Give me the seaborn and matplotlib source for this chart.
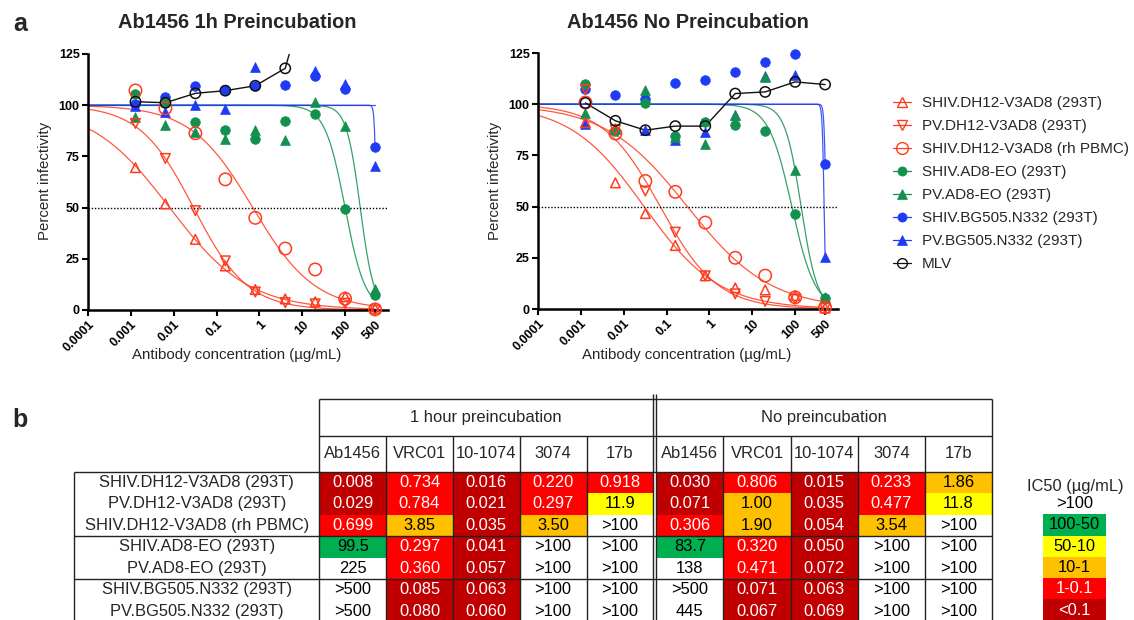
import numpy as np
import pandas as pd
import matplotlib
matplotlib.use("Agg")
import matplotlib.pyplot as plt
import seaborn as sns
from matplotlib.colors import ListedColormap
from matplotlib.lines import Line2D
from matplotlib.ticker import NullLocator

sns.set_theme(style="ticks")
plt.rcParams["font.family"] = ["Liberation Sans", "DejaVu Sans"]

# ---------------- data: neutralization curves ----------------
conc = [0.00128, 0.0064, 0.032, 0.16, 0.8, 4, 20, 100, 500]
series_names = ["SHIV.DH12-V3AD8 (293T)", "PV.DH12-V3AD8 (293T)", "SHIV.DH12-V3AD8 (rh PBMC)",
                "SHIV.AD8-EO (293T)", "PV.AD8-EO (293T)", "SHIV.BG505.N332 (293T)",
                "PV.BG505.N332 (293T)", "MLV"]

# 1h preincubation (left panel)
pre_shiv_dh12 = [69.5, 51.8, 34.5, 21.5, 10.0, 5.4, 4.0, 6.5, 0.7]
pre_pv_dh12 = [91.1, 74.0, 48.5, 24.0, 8.8, 3.6, 3.0, 3.3, 0.0]
pre_shiv_dh12_pbmc = [107.2, 98.5, 86.3, 63.8, 45.0, 30.0, 19.8, 5.5, 0.3]
pre_shiv_ad8 = [105.5, 101.2, 92.0, 88.0, 83.3, 92.4, 95.6, 49.5, 7.3]
pre_pv_ad8 = [94.0, 90.3, 87.0, 83.3, 88.0, 83.0, 101.7, 89.6, 10.4]
pre_shiv_bg505 = [100.5, 103.8, 109.4, 107.2, 109.5, 109.9, 114.5, 107.7, 79.4]
pre_pv_bg505 = [99.5, 96.5, 100.0, 98.2, 118.8, np.nan, 116.5, 110.5, 70.3]
pre_mlv = [101.7, 101.2, 105.8, 107.1, 109.5, 118.0, 170.0, np.nan, np.nan]

# no preincubation (right panel)
nop_shiv_dh12 = [91.0, 61.6, 46.6, 31.0, 16.2, 10.3, 9.3, 6.5, 0.5]
nop_pv_dh12 = [107.2, 87.5, 57.6, 37.5, 16.2, 7.4, 3.7, 4.9, 0.3]
nop_shiv_dh12_pbmc = [100.8, 85.7, 62.5, 57.2, 42.2, 25.0, 16.3, 5.7, 0.8]
nop_shiv_ad8 = [110.1, 87.0, 100.6, 84.4, 91.4, 89.8, 87.0, 46.2, 5.2]
nop_pv_ad8 = [95.5, 88.5, 106.8, 84.0, 80.5, 94.5, 113.3, 68.1, 6.0]
nop_shiv_bg505 = [107.5, 104.4, 102.3, 110.4, 111.7, 115.7, 120.6, 124.4, 71.0]
nop_pv_bg505 = [90.5, 88.0, 87.3, 82.5, 86.5, 94.6, 113.8, 114.1, 25.6]
nop_mlv = [100.6, 91.9, 87.3, 89.3, 89.3, 105.2, 106.0, 110.9, 109.6]

# fitted curve parameters (IC50, Hill slope) for the 7 virus series
pre_fit_ic50 = [0.008, 0.029, 0.699, 99.5, 225, 534, 1e4]
pre_fit_hill = [0.47, 0.69, 0.60, 1.85, 2.7, 20, 20]
nop_fit_ic50 = [0.030, 0.071, 0.306, 83.7, 138, 523, 474]
nop_fit_hill = [0.50, 0.65, 0.45, 1.6, 2.3, 20, 20]

xtick_vals = [0.0001, 0.001, 0.01, 0.1, 1, 10, 100, 500]
xtick_labels = ["0.0001", "0.001", "0.01", "0.1", "1", "10", "100", "500"]
ytick_vals = [0, 25, 50, 75, 100, 125]

# ---------------- data: IC50 table ----------------
row_labels = ["SHIV.DH12-V3AD8 (293T)", "PV.DH12-V3AD8 (293T)", "SHIV.DH12-V3AD8 (rh PBMC)",
              "SHIV.AD8-EO (293T)", "PV.AD8-EO (293T)", "SHIV.BG505.N332 (293T)",
              "PV.BG505.N332 (293T)"]
antibodies = ["Ab1456", "VRC01", "10-1074", "3074", "17b"]
pre_ab1456 = ["0.008", "0.029", "0.699", "99.5", "225", ">500", ">500"]
pre_vrc01 = ["0.734", "0.784", "3.85", "0.297", "0.360", "0.085", "0.080"]
pre_101074 = ["0.016", "0.021", "0.035", "0.041", "0.057", "0.063", "0.060"]
pre_3074 = ["0.220", "0.297", "3.50", ">100", ">100", ">100", ">100"]
pre_17b = ["0.918", "11.9", ">100", ">100", ">100", ">100", ">100"]
nop_ab1456 = ["0.030", "0.071", "0.306", "83.7", "138", ">500", "445"]
nop_vrc01 = ["0.806", "1.00", "1.90", "0.320", "0.471", "0.071", "0.067"]
nop_101074 = ["0.015", "0.035", "0.054", "0.050", "0.072", "0.063", "0.069"]
nop_3074 = ["0.233", "0.477", "3.54", ">100", ">100", ">100", ">100"]
nop_17b = ["1.86", "11.8", ">100", ">100", ">100", ">100", ">100"]
legend_bins = [">100", "100-50", "50-10", "10-1", "1-0.1", "<0.1"]
bin_colors = ["#FFFFFF", "#00B050", "#FFFF00", "#FFC000", "#FF0000", "#C00000"]

# ---------------- styles ----------------
RED, GREEN, BLUE, BLACK = "#FF3B1F", "#13904F", "#1F3BF5", "#111111"
styles = [  # color, marker, filled, size
    (RED, "^", False, 48), (RED, "v", False, 48), (RED, "o", False, 80),
    (GREEN, "o", True, 48), (GREEN, "^", True, 50),
    (BLUE, "o", True, 48), (BLUE, "^", True, 50), (BLACK, "o", False, 55)]

W, H = 1134, 620


def fr(x0, y0, x1, y1):
    return [x0 / W, 1 - y1 / H, (x1 - x0) / W, (y1 - y0) / H]


fig = plt.figure(figsize=(W / 100, H / 100), dpi=100)


def draw_panel(ax, values, ic50s, hills):
    ax.set_xscale("log")
    xs = np.logspace(-4, np.log10(500), 500)
    for k in range(7):
        c = styles[k][0]
        ys = 100.0 / (1.0 + (xs / ic50s[k]) ** hills[k])
        sns.lineplot(x=xs, y=ys, ax=ax, color=c, linewidth=0.9, estimator=None,
                     sort=False, legend=False, alpha=0.85)
    ax.axhline(50, color="black", linestyle=(0, (1, 1.3)), linewidth=1.0)
    sns.lineplot(x=conc, y=values[7], ax=ax, color=BLACK, linewidth=1.0,
                 estimator=None, legend=False)
    order = [6, 5, 4, 3, 2, 1, 0, 7]
    for k in order:
        c, m, filled, s = styles[k]
        df = pd.DataFrame({"x": conc, "y": values[k]}).dropna()
        df = df[df.y <= 125]
        if filled:
            sns.scatterplot(data=df, x="x", y="y", ax=ax, marker=m, s=s, color=c,
                            edgecolor=c, linewidth=0.5, clip_on=False, zorder=3,
                            legend=False)
        else:
            sns.scatterplot(data=df, x="x", y="y", ax=ax, marker=m, s=s, color=c,
                            facecolors="none", edgecolor=c, linewidth=1.1,
                            clip_on=False, zorder=4, legend=False)
    ax.set_xlim(1e-4, 1e3)
    ax.set_ylim(0, 125)
    ax.set_xticks(xtick_vals)
    ax.xaxis.set_minor_locator(NullLocator())
    ax.set_xticklabels(xtick_labels, rotation=45, ha="right", va="top",
                       rotation_mode="anchor", fontweight="bold", fontsize=9)
    ax.set_yticks(ytick_vals)
    ax.set_yticklabels([str(v) for v in ytick_vals], fontweight="bold", fontsize=9)
    ax.set_xlabel("")
    ax.set_ylabel("")
    sns.despine(ax=ax)
    for sp in ["left", "bottom"]:
        ax.spines[sp].set_linewidth(1.8)
        ax.spines[sp].set_color("black")
    ax.tick_params(axis="both", direction="out", length=4, width=1.5, colors="black", pad=2)
    ax.patch.set_alpha(0)


axL = fig.add_axes(fr(88, 54, 388, 310))
draw_panel(axL, [pre_shiv_dh12, pre_pv_dh12, pre_shiv_dh12_pbmc, pre_shiv_ad8, pre_pv_ad8,
                 pre_shiv_bg505, pre_pv_bg505, pre_mlv], pre_fit_ic50, pre_fit_hill)
axR = fig.add_axes(fr(538, 53, 838, 309))
draw_panel(axR, [nop_shiv_dh12, nop_pv_dh12, nop_shiv_dh12_pbmc, nop_shiv_ad8, nop_pv_ad8,
                 nop_shiv_bg505, nop_pv_bg505, nop_mlv], nop_fit_ic50, nop_fit_hill)

# legend
handles = []
for (c, m, filled, s) in styles:
    handles.append(Line2D([], [], color=c, marker=m, markersize=np.sqrt(s) * 0.95,
                          markerfacecolor=c if filled else "none",
                          markeredgecolor=c, linewidth=0.9,
                          markeredgewidth=1.0 if not filled else 0.5))
fig.legend(handles=handles, labels=series_names, loc="upper left",
           bbox_to_anchor=(893 / W, 1 - 96 / H), frameon=False, fontsize=11,
           handlelength=1.2, handletextpad=0.7, labelspacing=0.59,
           borderpad=0, borderaxespad=0)

# ---------------- overlay for text & table structure ----------------
ov = fig.add_axes([0, 0, 1, 1])
ov.set_xlim(0, W)
ov.set_ylim(H, 0)
ov.axis("off")
ov.patch.set_alpha(0)
ov.set_zorder(5)

ov.text(20, 24, "a", fontsize=18, fontweight="bold", ha="center", va="center")
ov.text(20, 420, "b", fontsize=18, fontweight="bold", ha="center", va="center")
ov.text(237.5, 28, "Ab1456 1h Preincubation", fontsize=14.4, fontweight="bold",
        ha="center", va="baseline")
ov.text(688, 28, "Ab1456 No Preincubation", fontsize=14.4, fontweight="bold",
        ha="center", va="baseline")
for xc in (45, 495):
    ov.text(xc, 181, "Percent infectivity", rotation=90, fontsize=10.8,
            ha="center", va="center")
for xc in (237, 687):
    ov.text(xc, 355, "Antibody concentration (µg/mL)", fontsize=10.8,
            ha="center", va="center")


# ---------------- table heatmaps ----------------
def ic50_class(s):
    if s.startswith(">"):
        return 0
    v = float(s)
    if v > 100:
        return 0
    if v >= 50:
        return 1
    if v >= 10:
        return 2
    if v >= 1:
        return 3
    if v >= 0.1:
        return 4
    return 5


cmap = ListedColormap(bin_colors)
RH = 21.45
Y_COL = 471.7
Y_BOT = Y_COL + 7 * RH
TFS = 11.9


def draw_heat(ax, cols):
    labels = np.array(cols).T
    cls = np.vectorize(ic50_class)(labels)
    sns.heatmap(cls, ax=ax, cmap=cmap, vmin=-0.5, vmax=5.5, cbar=False,
                xticklabels=False, yticklabels=False, linewidths=0)
    for i in range(labels.shape[0]):
        for j in range(labels.shape[1]):
            ax.text(j + 0.5, i + 0.5, labels[i, j], ha="center", va="center",
                    fontsize=TFS, color="white" if cls[i, j] >= 4 else "black")
    ax.set_xlabel("")
    ax.set_ylabel("")


X1 = np.linspace(319.3, 653.3, 6)
X2 = np.linspace(656.3, 992.0, 6)
hm1 = fig.add_axes(fr(X1[0], Y_COL, X1[-1], Y_BOT))
draw_heat(hm1, [pre_ab1456, pre_vrc01, pre_101074, pre_3074, pre_17b])
hm2 = fig.add_axes(fr(X2[0], Y_COL, X2[-1], Y_BOT))
draw_heat(hm2, [nop_ab1456, nop_vrc01, nop_101074, nop_3074, nop_17b])

# colour key
hm3 = fig.add_axes(fr(1043.3, 492.9, 1105.7, 492.9 + 6 * 21.3))
key_cls = np.arange(len(legend_bins)).reshape(-1, 1)
sns.heatmap(key_cls, ax=hm3, cmap=cmap, vmin=-0.5, vmax=5.5, cbar=False,
            xticklabels=False, yticklabels=False)
for i, lab in enumerate(legend_bins):
    hm3.text(0.5, i + 0.5, lab, ha="center", va="center", fontsize=TFS,
             color="white" if i >= 4 else "black")
ov.text(1075, 486, "IC50 (µg/mL)", ha="center", va="center", fontsize=TFS)

# table structure lines
LC, LW = "#222222", 1.0
Y_TOP, Y_GRP = 399.0, 435.7
ov.hlines([Y_TOP, Y_GRP], X1[0], X2[-1], color=LC, lw=LW)
ov.hlines([Y_COL, Y_COL + 3 * RH, Y_COL + 5 * RH], 74, X2[-1], color=LC, lw=LW)
ov.vlines([74], Y_COL, H, color=LC, lw=LW)
ov.vlines([X1[0], X2[-1]], Y_TOP, H, color=LC, lw=LW)
ov.vlines([X1[-1], X2[0]], 394, H, color=LC, lw=LW)
ov.vlines(list(X1[1:-1]) + list(X2[1:-1]), Y_GRP, H, color=LC, lw=LW)

ov.text((X1[0] + X1[-1]) / 2, 417.5, "1 hour preincubation", ha="center", va="center",
        fontsize=TFS)
ov.text((X2[0] + X2[-1]) / 2, 417.5, "No preincubation", ha="center", va="center",
        fontsize=TFS)
for xs_ in (X1, X2):
    for j, ab in enumerate(antibodies):
        ov.text((xs_[j] + xs_[j + 1]) / 2, 453.7, ab, ha="center", va="center",
                fontsize=TFS)
for i, lab in enumerate(row_labels):
    ov.text(196.7, Y_COL + (i + 0.5) * RH, lab, ha="center", va="center", fontsize=TFS)

fig.savefig("out.png", dpi=100)
